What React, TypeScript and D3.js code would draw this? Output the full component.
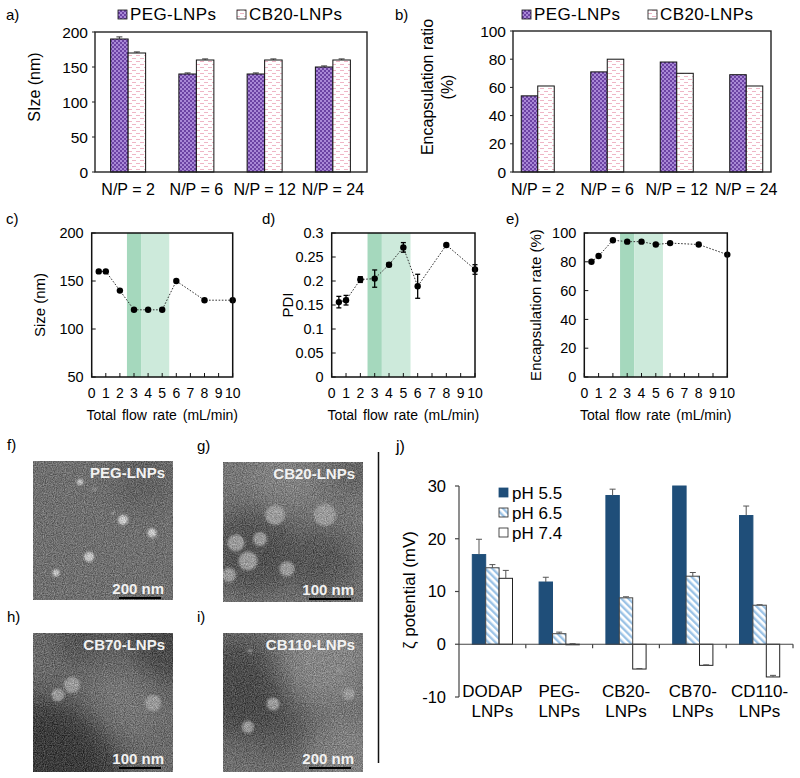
import { useRef, useEffect } from "react";
import * as d3 from "d3";

const FONT = '"Liberation Sans", Arial, sans-serif';

// a) / b) N/P ratio series
const npCategories = ["N/P = 2", "N/P = 6", "N/P = 12", "N/P = 24"];
const sizePEG = [190, 140, 140, 150];
const sizePEGErr = [3, 1.5, 1.5, 1.5];
const sizeCB20 = [170, 160, 160, 160];
const sizeCB20Err = [1.5, 1.5, 1.5, 1.5];
const encPEG = [54, 71, 78, 69];
const encCB20 = [61, 80, 70, 61];

// c) d) e) flow rate series
const flowRates = [0.5, 1, 2, 3, 4, 5, 6, 8, 10];
const flowSize = [160, 160, 140, 120, 120, 120, 150, 130, 130];
const flowPDI = [0.156, 0.16, 0.203, 0.205, 0.234, 0.27, 0.189, 0.275, 0.224];
const flowPDIErr = [0.012, 0.01, 0.006, 0.018, 0.004, 0.01, 0.025, 0.002, 0.01];
const flowEnc = [80, 84, 95, 94, 94, 92, 93, 92, 85];
const darkBand = [2.5, 3.5];
const lightBand = [3.5, 5.5];

// j) zeta potential
const zetaCategories = [
  ["DODAP", "LNPs"],
  ["PEG-", "LNPs"],
  ["CB20-", "LNPs"],
  ["CB70-", "LNPs"],
  ["CD110-", "LNPs"],
];
const zetaSeries = ["pH 5.5", "pH 6.5", "pH 7.4"];
const zeta55 = [17, 11.8, 28.2, 30, 24.4];
const zeta55Err = [2.9, 0.9, 1.2, 0, 1.8];
const zeta65 = [14.5, 2, 8.8, 12.9, 7.4];
const zeta65Err = [0.6, 0.3, 0.2, 0.7, 0.1];
const zeta74 = [12.5, -0.1, -4.7, -4, -6.2];
const zeta74Err = [1.5, 0.2, 0.1, 0.1, 0.3];

// f-i) TEM micrographs (approximated), particles as [x, y, r] inside the image,
// shades as [x, y, r, strength] (negative = darker area)
const temPanels = [
  { tag: "f)", name: "PEG-LNPs", scale: "200 nm", x: 33, y: 461, h: 139, tone: "#6e6e6e", bright: true, sb: 2,
    particles: [[47, 21, 3], [90, 59, 5], [119, 72, 4.5], [56, 96, 5], [23, 112, 3.5], [62, 28, 1.2], [80, 52, 1.2]],
    shades: [[110, 20, 30, -0.4]] },
  { tag: "g)", name: "CB20-LNPs", scale: "100 nm", x: 223, y: 462, h: 140, tone: "#787878", bright: false, sb: 3,
    particles: [[52, 53, 10], [102, 53, 11], [13, 81, 8.5], [37, 77, 7], [25, 99, 9.5], [6, 113, 7], [64, 107, 7.5]],
    shades: [[30, 90, 45, -0.9], [100, 100, 35, -0.8], [60, 15, 30, 0.6], [130, 10, 20, -0.6]] },
  { tag: "h)", name: "CB70-LNPs", scale: "100 nm", x: 33, y: 633, h: 139, tone: "#686868", bright: false, sb: 4,
    particles: [[39, 52, 8], [25, 62, 6.5], [120, 70, 8]],
    shades: [[5, 150, 85, -1.4], [140, 5, 45, -1], [50, 0, 30, -0.7], [90, 70, 35, 0.4]] },
  { tag: "i)", name: "CB110-LNPs", scale: "200 nm", x: 223, y: 633, h: 139, tone: "#6e6e6e", bright: false, sb: 4,
    particles: [[50, 71, 6.5], [25, 94, 6], [126, 61, 6], [27, 18, 2], [116, 37, 2], [85, 30, 1.5]],
    shades: [[15, 55, 50, -1], [60, 95, 30, -0.6], [100, 25, 45, 0.9], [125, 125, 40, 0.7]] },
];

export default function App() {
  const svgRef = useRef<SVGSVGElement>(null);

  useEffect(() => {
    if (!svgRef.current) return;
    const svg = d3.select(svgRef.current);
    svg.selectAll("*").remove();
    svg.attr("font-family", FONT);

    const defs = svg.append("defs");

    // Patterns
    const pPeg = defs.append("pattern").attr("id", "pegFill").attr("patternUnits", "userSpaceOnUse")
      .attr("width", 4).attr("height", 4);
    pPeg.append("rect").attr("width", 4).attr("height", 4).attr("fill", "#6c43a3");
    pPeg.append("rect").attr("width", 2).attr("height", 2).attr("fill", "#a988d6");
    pPeg.append("rect").attr("x", 2).attr("y", 2).attr("width", 2).attr("height", 2).attr("fill", "#a988d6");

    const pCb = defs.append("pattern").attr("id", "cbFill").attr("patternUnits", "userSpaceOnUse")
      .attr("width", 8).attr("height", 6);
    pCb.append("rect").attr("width", 8).attr("height", 6).attr("fill", "#ffffff");
    pCb.append("line").attr("x1", 0).attr("x2", 4).attr("y1", 1.5).attr("y2", 1.5)
      .attr("stroke", "#efb6c6").attr("stroke-width", 1);
    pCb.append("line").attr("x1", 4).attr("x2", 8).attr("y1", 4.5).attr("y2", 4.5)
      .attr("stroke", "#efb6c6").attr("stroke-width", 1);

    const pH65 = defs.append("pattern").attr("id", "ph65Fill").attr("patternUnits", "userSpaceOnUse")
      .attr("width", 5).attr("height", 5).attr("patternTransform", "rotate(-45)");
    pH65.append("rect").attr("width", 5).attr("height", 5).attr("fill", "#ffffff");
    pH65.append("rect").attr("width", 2.4).attr("height", 5).attr("fill", "#9cc3e6");

    // TEM filters
    const grain = defs.append("filter").attr("id", "grain").attr("x", 0).attr("y", 0)
      .attr("width", "100%").attr("height", "100%").attr("color-interpolation-filters", "sRGB");
    grain.append("feTurbulence").attr("type", "fractalNoise").attr("baseFrequency", 0.9)
      .attr("numOctaves", 2).attr("seed", 4).attr("result", "t");
    grain.append("feColorMatrix").attr("in", "t").attr("type", "matrix")
      .attr("values", "1.6 0 0 0 -0.35  1.6 0 0 0 -0.35  1.6 0 0 0 -0.35  0 0 0 0 0.28");
    grain.append("feComposite").attr("in2", "SourceGraphic").attr("operator", "in");
    defs.append("filter").attr("id", "blurBig").attr("x", "-100%").attr("y", "-100%")
      .attr("width", "300%").attr("height", "300%")
      .append("feGaussianBlur").attr("stdDeviation", 14);
    defs.append("filter").attr("id", "blurSmall").attr("x", "-50%").attr("y", "-50%")
      .attr("width", "200%").attr("height", "200%")
      .append("feGaussianBlur").attr("stdDeviation", 0.9);

    const label = (x: number, y: number, t: string, size = 15, anchor = "start") =>
      svg.append("text").attr("x", x).attr("y", y).attr("font-size", size)
        .attr("text-anchor", anchor).attr("fill", "#000").text(t);

    const vLabel = (x: number, y: number, t: string, size = 15) =>
      svg.append("text").attr("transform", `translate(${x},${y}) rotate(-90)`)
        .attr("font-size", size).attr("text-anchor", "middle").attr("fill", "#000").text(t);

    // ---------- a) and b) grouped bars ----------
    const groupedBars = (opt: {
      box: [number, number, number, number];
      band: [number, number];
      domain: [number, number];
      ticks: number[];
      barW: number;
      peg: number[];
      cb: number[];
      pegErr?: number[];
      cbErr?: number[];
    }) => {
      const [x0, y0, x1, y1] = opt.box;
      const y = d3.scaleLinear().domain(opt.domain).range([y1, y0]);
      const x = d3.scaleBand().domain(npCategories).range(opt.band);
      const g = svg.append("g");
      opt.ticks.forEach((t) => {
        g.append("line").attr("x1", x0 - 3).attr("x2", x0).attr("y1", y(t)).attr("y2", y(t))
          .attr("stroke", "#222").attr("stroke-width", 1);
        g.append("text").attr("x", x0 - 7).attr("y", y(t)).attr("dy", "0.36em")
          .attr("text-anchor", "end").attr("font-size", 15.5).text(t);
      });
      const series = [
        { v: opt.peg, e: opt.pegErr, fill: "url(#pegFill)", off: -opt.barW },
        { v: opt.cb, e: opt.cbErr, fill: "url(#cbFill)", off: 0 },
      ];
      series.forEach((s) => {
        npCategories.forEach((c, i) => {
          const cx = (x(c) as number) + x.bandwidth() / 2 + s.off;
          g.append("rect").attr("x", cx).attr("y", y(s.v[i])).attr("width", opt.barW)
            .attr("height", y(0) - y(s.v[i])).attr("fill", s.fill)
            .attr("stroke", "#111").attr("stroke-width", 1);
          if (s.e) {
            const mx = cx + opt.barW / 2;
            g.append("line").attr("x1", mx).attr("x2", mx).attr("y1", y(s.v[i]))
              .attr("y2", y(s.v[i] + s.e[i])).attr("stroke", "#333");
            g.append("line").attr("x1", mx - 3).attr("x2", mx + 3).attr("y1", y(s.v[i] + s.e[i]))
              .attr("y2", y(s.v[i] + s.e[i])).attr("stroke", "#333");
          }
        });
      });
      npCategories.forEach((c) => {
        g.append("text").attr("x", (x(c) as number) + x.bandwidth() / 2).attr("y", 195)
          .attr("text-anchor", "middle").attr("font-size", 16).text(c);
      });
      g.append("rect").attr("x", x0).attr("y", y0).attr("width", x1 - x0).attr("height", y1 - y0)
        .attr("fill", "none").attr("stroke", "#222").attr("stroke-width", 1.4);
    };

    const legendAB = (x0: number, x1: number) => {
      [
        { x: x0, fill: "url(#pegFill)", t: "PEG-LNPs" },
        { x: x1, fill: "url(#cbFill)", t: "CB20-LNPs" },
      ].forEach((l) => {
        svg.append("rect").attr("x", l.x).attr("y", 10).attr("width", 9).attr("height", 9)
          .attr("fill", l.fill).attr("stroke", "#111").attr("stroke-width", 0.8);
        svg.append("text").attr("x", l.x + 12).attr("y", 19.5).attr("font-size", 17)
          .attr("letter-spacing", 0.4).text(l.t);
      });
    };

    label(6, 20, "a)");
    legendAB(118, 237);
    vLabel(40, 87, "SIze (nm)", 16);
    groupedBars({
      box: [95, 32, 367, 172], band: [94, 367], domain: [0, 200], ticks: [0, 50, 100, 150, 200],
      barW: 17.5, peg: sizePEG, cb: sizeCB20, pegErr: sizePEGErr, cbErr: sizeCB20Err,
    });

    label(395, 20, "b)");
    legendAB(522, 648);
    vLabel(433, 87, "Encapsulation ratio", 16);
    vLabel(453, 87, "(%)", 16);
    groupedBars({
      box: [513, 31, 771, 172], band: [503, 781], domain: [0, 100], ticks: [0, 20, 40, 60, 80, 100],
      barW: 16.5, peg: encPEG, cb: encCB20,
    });

    // ---------- c) d) e) flow rate ----------
    const flowPanel = (opt: {
      x0: number; x1: number; domain: [number, number]; ticks: number[];
      fmt: (v: number) => string; values: number[]; errs?: number[];
    }) => {
      const top = 233, bottom = 377;
      const x = d3.scaleLinear().domain([0, 10]).range([opt.x0, opt.x1]);
      const y = d3.scaleLinear().domain(opt.domain).range([bottom, top]);
      const g = svg.append("g");
      g.append("rect").attr("x", x(darkBand[0])).attr("y", top).attr("width", x(darkBand[1]) - x(darkBand[0]))
        .attr("height", bottom - top).attr("fill", "#a5d8bd");
      g.append("rect").attr("x", x(lightBand[0])).attr("y", top).attr("width", x(lightBand[1]) - x(lightBand[0]))
        .attr("height", bottom - top).attr("fill", "#cdeadb");
      // ticks
      opt.ticks.forEach((t) => {
        g.append("line").attr("x1", opt.x0).attr("x2", opt.x0 + 4).attr("y1", y(t)).attr("y2", y(t))
          .attr("stroke", "#111");
        g.append("text").attr("x", opt.x0 - 8).attr("y", y(t)).attr("dy", "0.36em")
          .attr("text-anchor", "end").attr("font-size", 14.5).text(opt.fmt(t));
      });
      d3.range(0, 11).forEach((t) => {
        g.append("line").attr("x1", x(t)).attr("x2", x(t)).attr("y1", bottom).attr("y2", bottom - 4)
          .attr("stroke", "#111");
        g.append("text").attr("x", x(t)).attr("y", 398).attr("text-anchor", "middle")
          .attr("font-size", 14).text(t);
      });
      g.append("text").attr("x", (opt.x0 + opt.x1) / 2).attr("y", 420).attr("text-anchor", "middle")
        .attr("font-size", 14).attr("word-spacing", 2).text("Total flow rate (mL/min)");
      const line = d3.line<number>().x((_, i) => x(flowRates[i])).y((d) => y(d));
      g.append("path").datum(opt.values).attr("d", line).attr("fill", "none")
        .attr("stroke", "#333").attr("stroke-width", 1).attr("stroke-dasharray", "1.6,1.6");
      if (opt.errs) {
        opt.values.forEach((v, i) => {
          const e = (opt.errs as number[])[i];
          const cx = x(flowRates[i]);
          g.append("line").attr("x1", cx).attr("x2", cx).attr("y1", y(v - e)).attr("y2", y(v + e))
            .attr("stroke", "#000").attr("stroke-width", 1.3);
          [v - e, v + e].forEach((w) => {
            g.append("line").attr("x1", cx - 2.5).attr("x2", cx + 2.5).attr("y1", y(w)).attr("y2", y(w))
              .attr("stroke", "#000").attr("stroke-width", 1.3);
          });
        });
      }
      g.selectAll(null).data(opt.values).join("circle")
        .attr("cx", (_, i) => x(flowRates[i])).attr("cy", (d) => y(d)).attr("r", 3.2).attr("fill", "#000");
      g.append("rect").attr("x", opt.x0).attr("y", top).attr("width", opt.x1 - opt.x0)
        .attr("height", bottom - top).attr("fill", "none").attr("stroke", "#111").attr("stroke-width", 1.5);
    };

    label(6, 224, "c)");
    vLabel(45, 305, "Size (nm)", 15);
    flowPanel({ x0: 91.7, x1: 232.7, domain: [50, 200], ticks: [50, 100, 150, 200],
      fmt: (v) => String(v), values: flowSize });

    label(262, 224, "d)");
    vLabel(293, 305, "PDI", 15);
    flowPanel({ x0: 331.7, x1: 475, domain: [0, 0.3], ticks: [0, 0.05, 0.1, 0.15, 0.2, 0.25, 0.3],
      fmt: (v) => (v === 0 ? "0" : d3.format("~g")(v)), values: flowPDI, errs: flowPDIErr });

    label(506, 224, "e)");
    vLabel(541, 305, "Encapsulation rate (%)", 15);
    flowPanel({ x0: 584.3, x1: 727.3, domain: [0, 100], ticks: [0, 20, 40, 60, 80, 100],
      fmt: (v) => String(v), values: flowEnc });

    // ---------- f-i) TEM ----------
    temPanels.forEach((p, k) => {
      const w = 140;
      const clipId = `clip${k}`;
      defs.append("clipPath").attr("id", clipId).append("rect")
        .attr("x", p.x).attr("y", p.y).attr("width", w).attr("height", p.h);
      label(p.x - 26, p.y - 11, p.tag, 15);
      const g = svg.append("g").attr("clip-path", `url(#${clipId})`);
      g.append("rect").attr("x", p.x).attr("y", p.y).attr("width", w).attr("height", p.h).attr("fill", p.tone);
      p.shades.forEach(([sx, sy, sr, s]) => {
        g.append("circle").attr("cx", p.x + sx).attr("cy", p.y + sy).attr("r", sr)
          .attr("fill", s < 0 ? "#1c1c1c" : "#a8a8a8").attr("opacity", Math.min(1, Math.abs(s) * 0.6))
          .attr("filter", "url(#blurBig)");
      });
      p.particles.forEach(([px, py, pr]) => {
        g.append("circle").attr("cx", p.x + px).attr("cy", p.y + py).attr("r", pr)
          .attr("fill", p.bright ? "#e6e6e6" : "#a9a9a9").attr("filter", "url(#blurSmall)");
      });
      g.append("rect").attr("x", p.x).attr("y", p.y).attr("width", w).attr("height", p.h)
        .attr("fill", "#fff").attr("filter", "url(#grain)");
      const right = p.x + w - 8;
      g.append("text").attr("x", right).attr("y", p.y + 17).attr("text-anchor", "end")
        .attr("font-size", 15).attr("font-weight", "bold").attr("fill", "#f2f2f2").text(p.name);
      const sb = p.y + p.h - p.sb;
      g.append("text").attr("x", right - 1).attr("y", sb - 4.5).attr("text-anchor", "end")
        .attr("font-size", 15).attr("font-weight", "bold").attr("fill", "#f2f2f2").text(p.scale);
      g.append("line").attr("x1", right - 46).attr("x2", right - 4).attr("y1", sb).attr("y2", sb)
        .attr("stroke", "#000").attr("stroke-width", 2.2);
    });

    // separator
    svg.append("line").attr("x1", 378.5).attr("x2", 378.5).attr("y1", 452).attr("y2", 763)
      .attr("stroke", "#111").attr("stroke-width", 1.5);

    // ---------- j) zeta potential ----------
    {
      const y = d3.scaleLinear().domain([-10, 30]).range([697, 486]);
      const x = d3.scaleBand().domain(zetaCategories.map((c) => c.join(" "))).range([459, 793]);
      const barW = 13.4;
      const g = svg.append("g");
      label(396, 452, "j)", 16);
      const series = [
        { v: zeta55, e: zeta55Err, fill: "#1f4e79", stroke: "#1f4e79" },
        { v: zeta65, e: zeta65Err, fill: "url(#ph65Fill)", stroke: "#444" },
        { v: zeta74, e: zeta74Err, fill: "#ffffff", stroke: "#222" },
      ];
      series.forEach((s, si) => {
        zetaCategories.forEach((c, i) => {
          const key = c.join(" ");
          const bx = (x(key) as number) + x.bandwidth() / 2 + (si - 1.5) * barW;
          const top = Math.min(y(s.v[i]), y(0));
          g.append("rect").attr("x", bx).attr("y", top).attr("width", barW)
            .attr("height", Math.abs(y(s.v[i]) - y(0))).attr("fill", s.fill)
            .attr("stroke", s.stroke).attr("stroke-width", 1);
          if (s.e[i] > 0) {
            const mx = bx + barW / 2;
            const ev = s.v[i] + s.e[i];
            g.append("line").attr("x1", mx).attr("x2", mx).attr("y1", y(s.v[i])).attr("y2", y(ev))
              .attr("stroke", "#555");
            g.append("line").attr("x1", mx - 3).attr("x2", mx + 3).attr("y1", y(ev)).attr("y2", y(ev))
              .attr("stroke", "#555");
          }
        });
      });
      // axes
      g.append("line").attr("x1", 459).attr("x2", 459).attr("y1", y(30)).attr("y2", y(-10))
        .attr("stroke", "#444").attr("stroke-width", 1.2);
      [-10, 0, 10, 20, 30].forEach((t) => {
        g.append("line").attr("x1", 455).attr("x2", 459).attr("y1", y(t)).attr("y2", y(t))
          .attr("stroke", "#444").attr("stroke-width", 1.2);
        g.append("text").attr("x", 446).attr("y", y(t)).attr("dy", "0.36em").attr("text-anchor", "end")
          .attr("font-size", 16.5).text(t);
      });
      g.append("line").attr("x1", 459).attr("x2", 793).attr("y1", y(0)).attr("y2", y(0))
        .attr("stroke", "#444").attr("stroke-width", 1.2);
      zetaCategories.forEach((c) => {
        const key = c.join(" ");
        const bx = (x(key) as number) + x.bandwidth();
        g.append("line").attr("x1", bx).attr("x2", bx).attr("y1", y(0)).attr("y2", y(0) + 4)
          .attr("stroke", "#444").attr("stroke-width", 1.2);
        const cx = (x(key) as number) + x.bandwidth() / 2;
        g.append("text").attr("x", cx).attr("y", 697).attr("text-anchor", "middle").attr("font-size", 17).text(c[0]);
        g.append("text").attr("x", cx).attr("y", 717).attr("text-anchor", "middle").attr("font-size", 17).text(c[1]);
      });
      vLabel(415, 590, "ζ potential (mV)", 17);
      // legend
      zetaSeries.forEach((t, i) => {
        const ly = 493 + i * 20;
        g.append("rect").attr("x", 499).attr("y", ly - 5).attr("width", 9).attr("height", 9)
          .attr("fill", series[i].fill).attr("stroke", i === 0 ? "#1f4e79" : "#222").attr("stroke-width", 0.8);
        g.append("text").attr("x", 512).attr("y", ly).attr("dy", "0.36em").attr("font-size", 17).text(t);
      });
    }
  }, []);

  return (
    <svg
      ref={svgRef}
      width={800}
      height={778}
      viewBox="0 0 800 778"
      style={{ position: "absolute", left: 0, top: 0, background: "#fff" }}
    />
  );
}
